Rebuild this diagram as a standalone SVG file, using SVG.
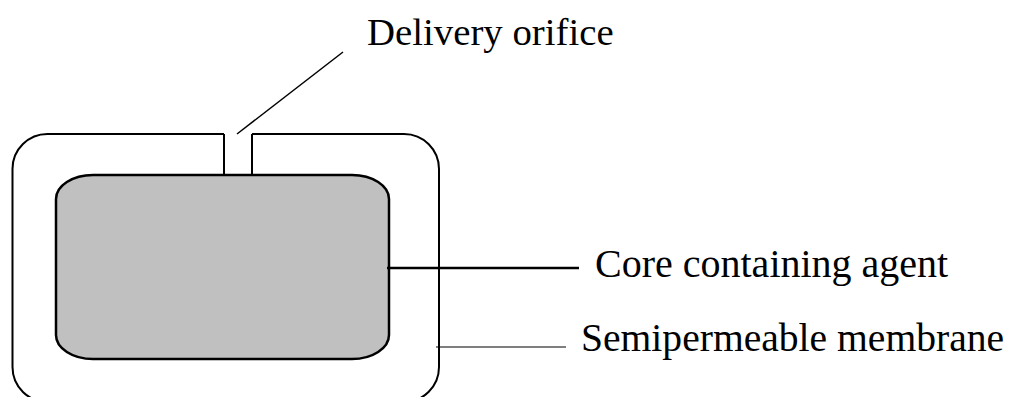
<svg xmlns="http://www.w3.org/2000/svg" width="1017" height="397" viewBox="0 0 1017 397">
<style>
.lbl{font-family:"Liberation Serif","Times New Roman",serif;font-size:40px;fill:#000}
.ln{stroke:#000;fill:none}
</style>
<rect width="1017" height="397" fill="#fff"/>
<g id="membrane">
<path class="ln" stroke-width="2" d="M224,134 H48 A35,35 0 0 0 12.5,169 V367 A35,35 0 0 0 48,402 H404 A35,35 0 0 0 439,367 V169 A35,35 0 0 0 404,134 H252 M224,134 V175 M252,134 V175"/>
</g>
<g id="core">
<rect x="56" y="175" width="333" height="184" rx="37" ry="24" fill="#c0c0c0" stroke="#000" stroke-width="2.5"/>
</g>
<g id="connectors">
<line class="ln" stroke-width="1.5" x1="237" y1="134" x2="343" y2="52"/>
<line class="ln" stroke-width="2.5" x1="387" y1="268" x2="579" y2="268"/>
<line class="ln" stroke-width="1.2" x1="436" y1="347" x2="566" y2="347"/>
</g>
<g id="labels">
<text class="lbl" x="367" y="45" style="font-size:38.8px">Delivery orifice</text>
<text class="lbl" x="595" y="277">Core containing agent</text>
<text class="lbl" x="581" y="351" style="font-size:39.6px">Semipermeable membrane</text>
</g>
</svg>
